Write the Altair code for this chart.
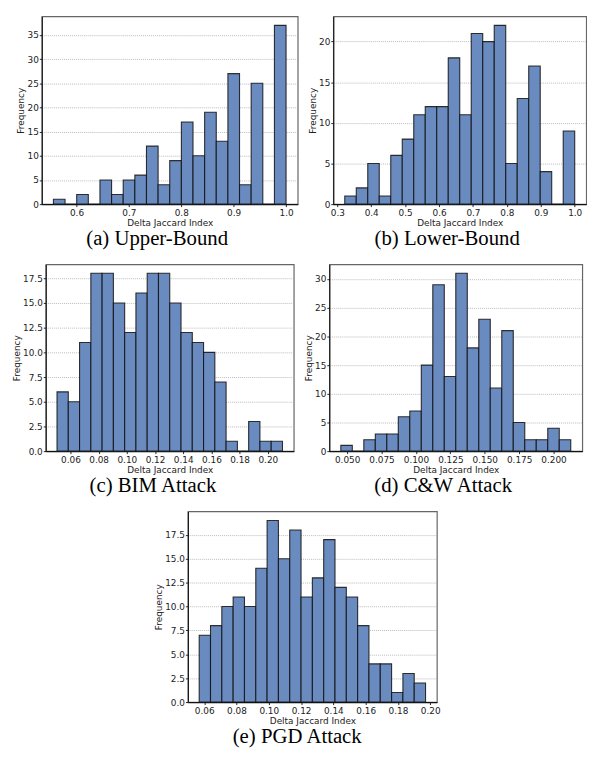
import altair as alt
import pandas as pd

# ---- data (20 bins per histogram) ----
ub_lo, ub_hi = 0.556, 1.0
ub_counts = [1, 0, 2, 0, 5, 2, 5, 6, 12, 4, 9, 17, 10, 19, 13, 27, 4, 25, 0, 37]

lb_lo, lb_hi = 0.322, 1.0
lb_counts = [1, 2, 5, 1, 6, 8, 11, 12, 12, 18, 11, 21, 20, 22, 5, 13, 17, 4, 0, 9]

bim_lo, bim_hi = 0.0505, 0.2104
bim_counts = [6, 5, 11, 18, 18, 15, 12, 16, 18, 18, 15, 12, 11, 10, 7, 1, 0, 3, 1, 1]

cw_lo, cw_hi = 0.0454, 0.2125
cw_counts = [1, 0, 2, 3, 3, 6, 7, 15, 29, 13, 31, 18, 23, 11, 21, 5, 2, 2, 4, 2]

pgd_lo, pgd_hi = 0.0569, 0.1971
pgd_counts = [7, 8, 10, 11, 10, 14, 19, 15, 18, 11, 13, 17, 12, 11, 8, 4, 4, 1, 3, 2]

ub_xticks = [0.6, 0.7, 0.8, 0.9, 1.0]
lb_xticks = [0.3, 0.4, 0.5, 0.6, 0.7, 0.8, 0.9, 1.0]
bim_xticks = [0.06, 0.08, 0.10, 0.12, 0.14, 0.16, 0.18, 0.20]
cw_xticks = [0.050, 0.075, 0.100, 0.125, 0.150, 0.175, 0.200]
pgd_xticks = [0.06, 0.08, 0.10, 0.12, 0.14, 0.16, 0.18, 0.20]

ub_yticks = [0, 5, 10, 15, 20, 25, 30, 35]
lb_yticks = [0, 5, 10, 15, 20]
bim_yticks = [0, 2.5, 5.0, 7.5, 10.0, 12.5, 15.0, 17.5]
cw_yticks = [0, 5, 10, 15, 20, 25, 30]
pgd_yticks = [0, 2.5, 5.0, 7.5, 10.0, 12.5, 15.0, 17.5]

captions = ["(a) Upper-Bound", "(b) Lower-Bound", "(c) BIM Attack",
            "(d) C&W Attack", "(e) PGD Attack"]

BAR = "#6a8bbf"


def panel(lo, hi, counts, xticks, xfmt, yticks, yfmt, caption, w, h):
    n = len(counts)
    bw = (hi - lo) / n
    df = pd.DataFrame({
        "x0": [lo + i * bw for i in range(n)],
        "x1": [lo + (i + 1) * bw for i in range(n)],
        "count": counts,
        "base": [0] * n,
    })
    span = hi - lo
    xdom = [lo - 0.05 * span, hi + 0.05 * span]
    ydom = [0, max(counts) * 1.05]
    return alt.Chart(df).mark_bar(
        fill=BAR, stroke="#111111", strokeWidth=1.1, strokeOpacity=0.85
    ).encode(
        x=alt.X("x0:Q", scale=alt.Scale(domain=xdom, nice=False, zero=False),
                axis=alt.Axis(values=xticks, format=xfmt, title="Delta Jaccard Index",
                              grid=False, labelPadding=2.5, titlePadding=1)),
        x2="x1",
        y=alt.Y("count:Q", scale=alt.Scale(domain=ydom, nice=False, zero=False),
                axis=alt.Axis(values=yticks, format=yfmt, title="Frequency",
                              grid=True, labelPadding=1, titlePadding=1.5)),
        y2="base",
    ).properties(
        width=w, height=h,
        title=alt.TitleParams(caption, orient="bottom", anchor="middle",
                              frame="bounds", font="Liberation Serif",
                              fontSize=21, fontWeight="normal", color="black",
                              offset=0.5),
    )


a = panel(ub_lo, ub_hi, ub_counts, ub_xticks, ".1f", ub_yticks, "d", captions[0], 259, 190)
b = panel(lb_lo, lb_hi, lb_counts, lb_xticks, ".1f", lb_yticks, "d", captions[1], 256, 190)
c = panel(bim_lo, bim_hi, bim_counts, bim_xticks, ".2f", bim_yticks, ".1f", captions[2], 251, 189)
d = panel(cw_lo, cw_hi, cw_counts, cw_xticks, ".3f", cw_yticks, "d", captions[3], 256, 189)
e = panel(pgd_lo, pgd_hi, pgd_counts, pgd_xticks, ".2f", pgd_yticks, ".1f", captions[4], 252, 193)

row1 = alt.hconcat(a, b, spacing=8)
row2 = alt.hconcat(c, d, spacing=8)

chart = alt.vconcat(row1, row2, e, spacing=13, center=True).properties(
    padding={"left": 3, "top": 3, "right": 0, "bottom": 0}
).configure(
    font="DejaVu Sans",
).configure_view(
    stroke="#666666", strokeWidth=1.2,
).configure_axis(
    domainColor="#111111", domainWidth=1.1,
    tickColor="#111111", tickSize=2.5, tickWidth=0.9,
    labelFont="DejaVu Sans", labelFontSize=9, labelColor="#222222",
    titleFont="DejaVu Sans", titleFontSize=9, titleFontWeight="normal",
    titleColor="#222222",
    gridColor="#aaaaaa", gridDash=[1, 1], gridWidth=0.8,
).configure_concat(spacing=8)

chart.save("out.html", embed_options={"renderer": "svg", "actions": False})
